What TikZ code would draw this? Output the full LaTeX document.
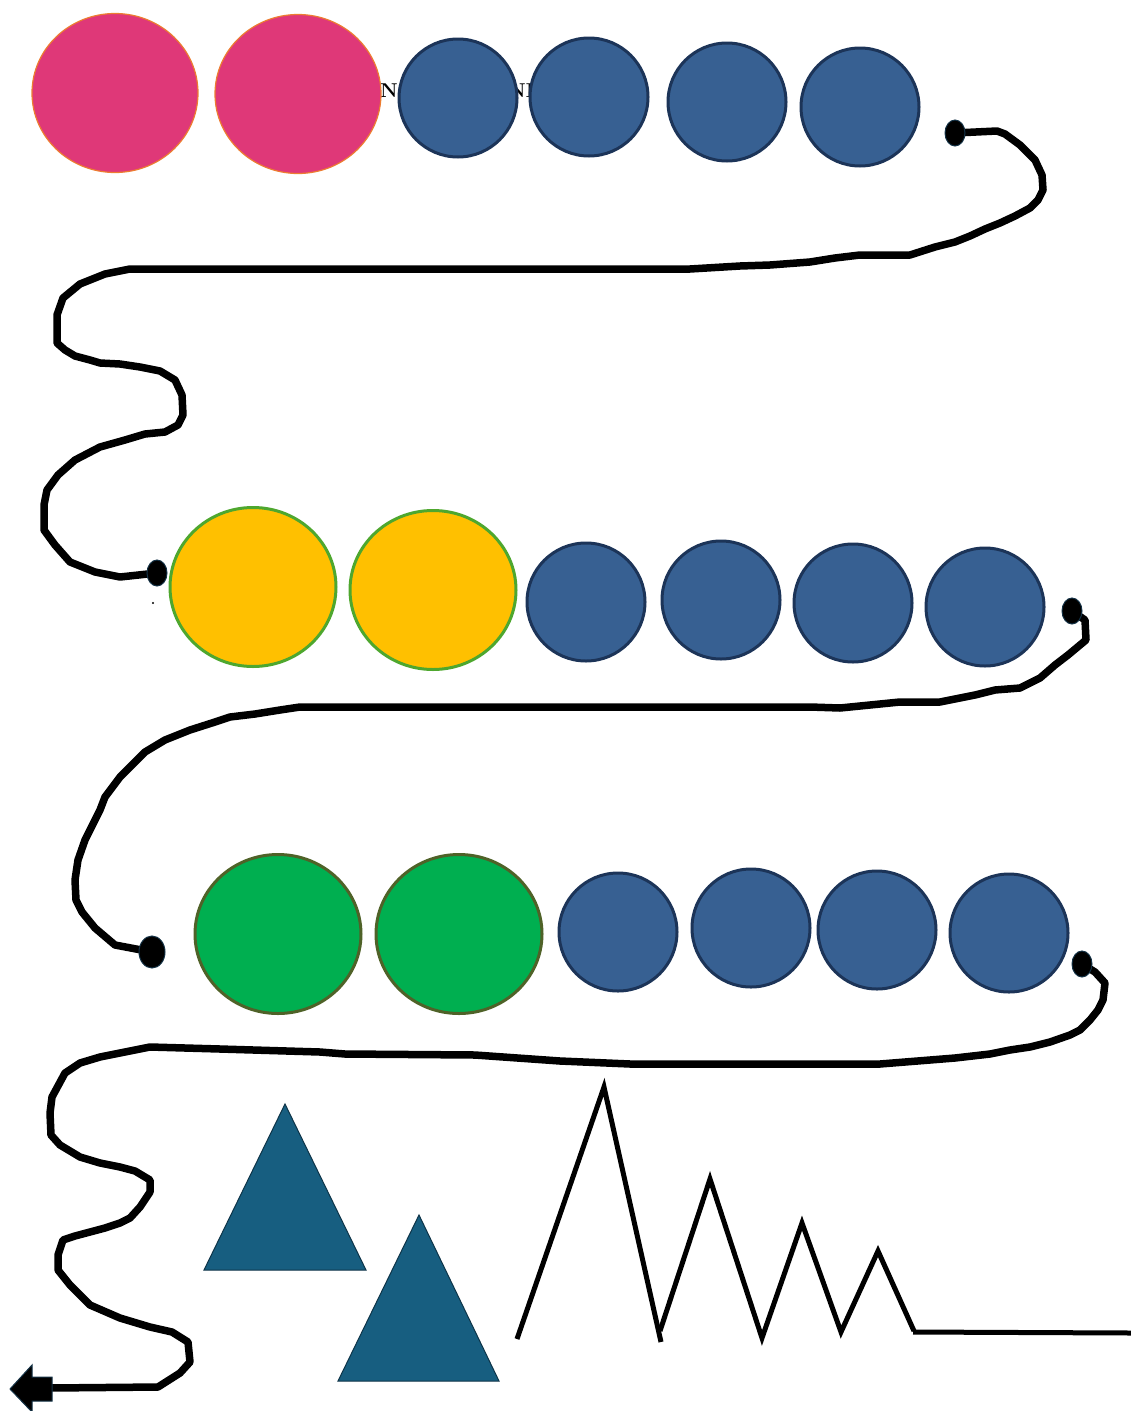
\documentclass[tikz,border=0pt]{standalone}
\usetikzlibrary{shapes.geometric}
\definecolor{pinkfill}{RGB}{223,56,120}
\definecolor{pinkline}{RGB}{237,125,49}
\definecolor{bluefill}{RGB}{55,96,146}
\definecolor{blueline}{RGB}{28,52,88}
\definecolor{yelfill}{RGB}{255,192,0}
\definecolor{yelline}{RGB}{78,167,46}
\definecolor{grnfill}{RGB}{0,175,80}
\definecolor{grnline}{RGB}{79,98,40}
\definecolor{trifill}{RGB}{23,94,128}
\definecolor{triline}{RGB}{14,52,72}
\definecolor{dotline}{RGB}{20,50,70}
\tikzset{
  bigc/.style={ellipse, inner sep=0pt, minimum width=166pt, minimum height=159pt},
  pinkc/.style={bigc, fill=pinkfill, draw=pinkline, line width=1.2pt},
  yelc/.style={bigc, fill=yelfill, draw=yelline, line width=3pt},
  grnc/.style={bigc, fill=grnfill, draw=grnline, line width=3pt},
  bluec/.style={circle, inner sep=0pt, minimum size=118pt, fill=bluefill, draw=blueline, line width=3pt},
  dotc/.style={ellipse, inner sep=0pt, minimum width=20pt, minimum height=26pt, fill=black, draw=dotline, line width=1pt},
  rope/.style={draw=black, line width=7.5pt, line join=round, line cap=round},
  tri/.style={fill=trifill, draw=triline, line width=1pt},
  zig/.style={draw=black, line width=5pt, line join=miter},
  lbl/.style={inner sep=0pt, font=\fontsize{20}{22}\selectfont\bfseries}
}
\begin{document}
\begin{tikzpicture}[x=1pt,y=-1pt]
\useasboundingbox (0,0) rectangle (1131,1411);
% hidden text behind circles
\node[lbl, anchor=west] (t1) at (380,91) {N};
\node[lbl, anchor=west] (t2) at (508,91) {NI};
% row 1
\node[pinkc] (p1) at (115,93) {};
\node[pinkc] (p2) at (298,94) {};
\node[bluec] (b11) at (458,98) {};
\node[bluec] (b12) at (589,97) {};
\node[bluec] (b13) at (727,102) {};
\node[bluec] (b14) at (860,107) {};
% row 2
\node[yelc] (y1) at (253,587) {};
\node[yelc] (y2) at (433,590) {};
\node[bluec] (b21) at (586,602) {};
\node[bluec] (b22) at (721,600) {};
\node[bluec] (b23) at (853,603) {};
\node[bluec] (b24) at (985,607) {};
% row 3
\node[grnc] (g1) at (278,934) {};
\node[grnc] (g2) at (459,934) {};
\node[bluec] (b31) at (618,932) {};
\node[bluec] (b32) at (751,928) {};
\node[bluec] (b33) at (877,930) {};
\node[bluec] (b34) at (1009,933) {};
% dot positions
\coordinate (c1) at (955,133);
\coordinate (c2) at (157,573);
\coordinate (c3) at (1072,611);
\coordinate (c4) at (152,952);
\coordinate (c5) at (1082,964);
\coordinate (aend) at (50,1388);
% ropes
\draw[rope] (c1) -- (997,131) -- (1005,134) -- (1020,145) -- (1035,160) -- (1042,175) -- (1043,190) -- (1038,200) -- (1030,208) -- (1015,216) -- (1000,223) -- (985,229) -- (970,236) -- (955,242) -- (935,247) -- (910,255) -- (860,255) -- (835,258) -- (810,262) -- (770,265) -- (740,266) -- (690,269) -- (130,269) -- (105,274) -- (80,284) -- (63,298) -- (57,315) -- (57,343) -- (65,350) -- (75,356) -- (90,360) -- (100,363) -- (120,364) -- (140,367) -- (160,371) -- (175,380) -- (182,395) -- (183,415) -- (178,425) -- (165,432) -- (145,434) -- (125,440) -- (100,447) -- (75,460) -- (58,475) -- (47,490) -- (44,505) -- (44,530) -- (55,545) -- (70,562) -- (95,572) -- (120,577) -- (c2);
\draw[rope] (c3) -- (1085,620) -- (1086,640) -- (1068,655) -- (1055,665) -- (1040,678) -- (1020,688) -- (995,690) -- (975,695) -- (940,702) -- (900,702) -- (880,704) -- (840,708) -- (810,707) -- (300,707) -- (280,710) -- (255,714) -- (230,717) -- (215,722) -- (190,730) -- (165,740) -- (145,752) -- (130,767) -- (120,777) -- (105,797) -- (100,810) -- (85,840) -- (78,860) -- (75,880) -- (76,900) -- (82,912) -- (95,928) -- (115,945) -- (c4);
\draw[rope] (c5) -- (1095,972) -- (1105,983) -- (1103,1000) -- (1098,1010) -- (1090,1020) -- (1080,1030) -- (1070,1035) -- (1050,1042) -- (1030,1047) -- (1010,1050) -- (990,1054) -- (955,1058) -- (880,1064) -- (630,1064) -- (560,1061) -- (475,1055) -- (345,1054) -- (320,1052) -- (220,1049) -- (150,1047) -- (125,1052) -- (100,1057) -- (80,1063) -- (65,1073) -- (52,1097) -- (50,1113) -- (51,1135) -- (60,1145) -- (80,1157) -- (100,1163) -- (120,1167) -- (135,1171) -- (150,1180) -- (150,1192) -- (140,1207) -- (130,1218) -- (120,1223) -- (105,1228) -- (90,1232) -- (75,1236) -- (63,1240) -- (58,1255) -- (58,1270) -- (70,1285) -- (90,1305) -- (120,1318) -- (150,1327) -- (172,1332) -- (188,1342) -- (190,1362) -- (180,1373) -- (158,1387) -- (aend);
% dots
\node[dotc] (d1) at (c1) {};
\node[dotc] (d2) at (c2) {};
\node[dotc] (d3) at (c3) {};
\node[dotc, minimum width=26pt, minimum height=32pt] (d4) at (c4) {};
\node[dotc] (d5) at (c5) {};
\fill (153,603) circle (1.2pt);
% arrow head
\draw[fill=black, draw=dotline, line width=1pt] (52,1377) -- (32,1377) -- (32,1365) -- (10,1389) -- (32,1412) -- (32,1401) -- (52,1401) -- cycle;
% triangles
\draw[tri] (285,1104) -- (366,1270) -- (204,1270) -- cycle;
\draw[tri] (419,1215) -- (499,1381) -- (338,1381) -- cycle;
% zigzag
\draw[zig] (517,1339) -- (604,1087) -- (661,1342);
\draw[zig] (660,1331) -- (710,1179) -- (762,1338) -- (802,1223) -- (841,1332) -- (878,1251) -- (914,1331);
\draw[zig] (913,1332) -- (1131,1333);
\end{tikzpicture}
\end{document}
